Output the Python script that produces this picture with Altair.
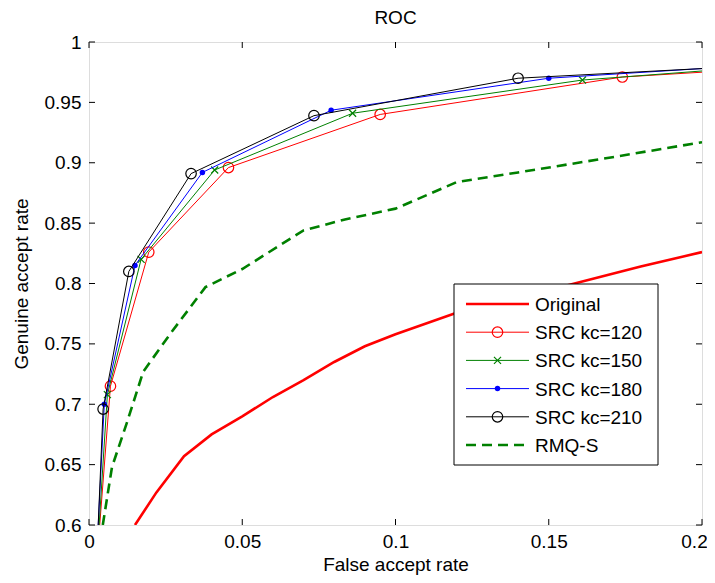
import altair as alt
import pandas as pd

# ---------------- data ----------------
orig_x = [0.015, 0.022, 0.031, 0.040, 0.050, 0.060, 0.070, 0.080, 0.090, 0.100, 0.119, 0.140, 0.160, 0.180, 0.200]
orig_y = [0.600, 0.627, 0.657, 0.675, 0.690, 0.706, 0.720, 0.735, 0.748, 0.758, 0.775, 0.788, 0.801, 0.814, 0.826]

src120_x = [0.0035, 0.0070, 0.0195, 0.0455, 0.0950, 0.1740, 0.2000]
src120_y = [0.600, 0.715, 0.826, 0.896, 0.940, 0.971, 0.975]
src150_x = [0.0033, 0.0060, 0.0170, 0.0410, 0.0860, 0.1610, 0.2000]
src150_y = [0.600, 0.708, 0.820, 0.894, 0.941, 0.9685, 0.976]
src180_x = [0.0030, 0.0050, 0.0150, 0.0370, 0.0790, 0.1500, 0.2000]
src180_y = [0.600, 0.700, 0.815, 0.892, 0.9435, 0.970, 0.978]
src210_x = [0.0030, 0.0046, 0.0130, 0.0333, 0.0734, 0.1400, 0.2000]
src210_y = [0.600, 0.696, 0.810, 0.891, 0.939, 0.970, 0.978]

rmq_x = [0.0045, 0.0075, 0.0124, 0.0177, 0.027, 0.038, 0.050, 0.070, 0.0835, 0.100, 0.120, 0.140, 0.167, 0.200]
rmq_y = [0.600, 0.648, 0.685, 0.727, 0.760, 0.797, 0.812, 0.844, 0.853, 0.862, 0.884, 0.892, 0.903, 0.917]

labels = ["Original", "SRC kc=120", "SRC kc=150", "SRC kc=180", "SRC kc=210", "RMQ-S"]
colors = ["#ff0000", "#ff0000", "#008000", "#0000ff", "#000000", "#008000"]

x_ticks = [0, 0.05, 0.1, 0.15, 0.2]
y_ticks = [0.6, 0.65, 0.7, 0.75, 0.8, 0.85, 0.9, 0.95, 1.0]

W, H = 613, 483
FONT = "Liberation Sans"
FS = 19

xs = alt.Scale(domain=[0, 0.2], nice=False, zero=False)
ys = alt.Scale(domain=[0.6, 1.0], nice=False, zero=False)

x_axis = alt.Axis(values=x_ticks, grid=False, domain=False, ticks=False, labelPadding=7,
                  labelFont=FONT, labelFontSize=FS, labelColor="black", labelFlush=False,
                  labelOffset={"condition": {"test": "datum.value >= 0.2", "value": -8}, "value": 0},
                  labelExpr="datum.value == 0 ? '0' : format(datum.value, '.2~f')",
                  title="False accept rate", titleFont=FONT, titleFontSize=FS, titleFontWeight="normal",
                  titleColor="black", titleY=45, titleBaseline="alphabetic")
y_axis = alt.Axis(values=y_ticks, grid=False, domain=False, ticks=False, labelPadding=8,
                  labelFont=FONT, labelFontSize=FS, labelColor="black", labelFlush=False,
                  labelExpr="format(datum.value, '.2~f')",
                  title="Genuine accept rate", titleFont=FONT, titleFontSize=FS, titleFontWeight="normal",
                  titleColor="black", titleX=-68, titleY=H / 2, titleAngle=270,
                  titleAlign="center", titleBaseline="middle")

def series_df(xv, yv):
    return pd.DataFrame({"x": xv, "y": yv})

layers = []

# Original
layers.append(alt.Chart(series_df(orig_x, orig_y)).mark_line(color="#ff0000", strokeWidth=2.6, clip=True).encode(
    x=alt.X("x:Q", scale=xs, axis=x_axis), y=alt.Y("y:Q", scale=ys, axis=y_axis)))

XPATH = "M-1,-1L1,1M-1,1L1,-1"
src = [(src120_x, src120_y, "#ff0000", "circle", False, 110),
       (src150_x, src150_y, "#008000", XPATH, False, 50),
       (src180_x, src180_y, "#0000ff", "circle", True, 30),
       (src210_x, src210_y, "#000000", "circle", False, 110)]
for xv, yv, c, shp, filled, sz in src:
    df = series_df(xv, yv)
    layers.append(alt.Chart(df).mark_line(color=c, strokeWidth=1, clip=True).encode(
        x=alt.X("x:Q", scale=xs), y=alt.Y("y:Q", scale=ys)))
    mk = series_df(xv[1:-1], yv[1:-1])
    layers.append(alt.Chart(mk).mark_point(shape=shp, filled=filled, color=c, size=sz, strokeWidth=1.2,
                                           opacity=1, clip=True).encode(
        x=alt.X("x:Q", scale=xs), y=alt.Y("y:Q", scale=ys)))

# RMQ-S
layers.append(alt.Chart(series_df(rmq_x, rmq_y)).mark_line(color="#008000", strokeWidth=2.6,
                                                          strokeDash=[10, 6], clip=True).encode(
    x=alt.X("x:Q", scale=xs), y=alt.Y("y:Q", scale=ys)))

# inner ticks (MATLAB style)
xt = pd.DataFrame({"t": x_ticks})
yt = pd.DataFrame({"t": y_ticks})
TL = 6
layers.append(alt.Chart(xt).mark_rule(color="black", strokeWidth=1).encode(
    x=alt.X("t:Q", scale=xs), y=alt.value(H), y2=alt.value(H - TL)))
layers.append(alt.Chart(xt).mark_rule(color="black", strokeWidth=1).encode(
    x=alt.X("t:Q", scale=xs), y=alt.value(0), y2=alt.value(TL)))
layers.append(alt.Chart(yt).mark_rule(color="black", strokeWidth=1).encode(
    y=alt.Y("t:Q", scale=ys), x=alt.value(0), x2=alt.value(TL)))
layers.append(alt.Chart(yt).mark_rule(color="black", strokeWidth=1).encode(
    y=alt.Y("t:Q", scale=ys), x=alt.value(W - TL), x2=alt.value(W)))

# legend box
box = pd.DataFrame({"k": [0]})
LX0, LX1, LY0, LY1 = 365, 569, 242, 423
layers.append(alt.Chart(box).mark_rect(fill="white", stroke="black", strokeWidth=1).encode(
    x=alt.value(LX0), x2=alt.value(LX1), y=alt.value(LY0), y2=alt.value(LY1)))

leg_styles = [
    dict(sw=2.6, dash=None, shape=None),
    dict(sw=1, dash=None, shape=("circle", False, 110)),
    dict(sw=1, dash=None, shape=(XPATH, False, 50)),
    dict(sw=1, dash=None, shape=("circle", True, 30)),
    dict(sw=1, dash=None, shape=("circle", False, 110)),
    dict(sw=2.6, dash=[10, 6], shape=None),
]
for i, (lab, c, st) in enumerate(zip(labels, colors, leg_styles)):
    yy = 262 + i * 28.2
    d = pd.DataFrame({"label": [lab]})
    rule_kw = dict(color=c, strokeWidth=st["sw"])
    if st["dash"]:
        rule_kw["strokeDash"] = st["dash"]
    layers.append(alt.Chart(d).mark_rule(**rule_kw).encode(
        x=alt.value(377), x2=alt.value(440), y=alt.value(yy)))
    if st["shape"]:
        shp, filled, sz = st["shape"]
        layers.append(alt.Chart(d).mark_point(shape=shp, filled=filled, color=c, size=sz,
                                              strokeWidth=1.2, opacity=1).encode(
            x=alt.value(408.5), y=alt.value(yy)))
    layers.append(alt.Chart(d).mark_text(align="left", baseline="middle", font=FONT, fontSize=FS,
                                         color="black").encode(
        x=alt.value(446), y=alt.value(yy + 1), text="label:N"))

chart = alt.layer(*layers).properties(
    width=W, height=H,
    title=alt.TitleParams("ROC", font=FONT, fontSize=FS, fontWeight="normal", color="black",
                          anchor="middle", offset=5),
    autosize=alt.AutoSizeParams(type="none"),
    padding={"left": 81, "top": 34, "right": 5, "bottom": 50},
).configure_view(stroke="black", strokeWidth=1).configure(background="white")

chart.save("out.html", embed_options={"renderer": "svg", "actions": False})
